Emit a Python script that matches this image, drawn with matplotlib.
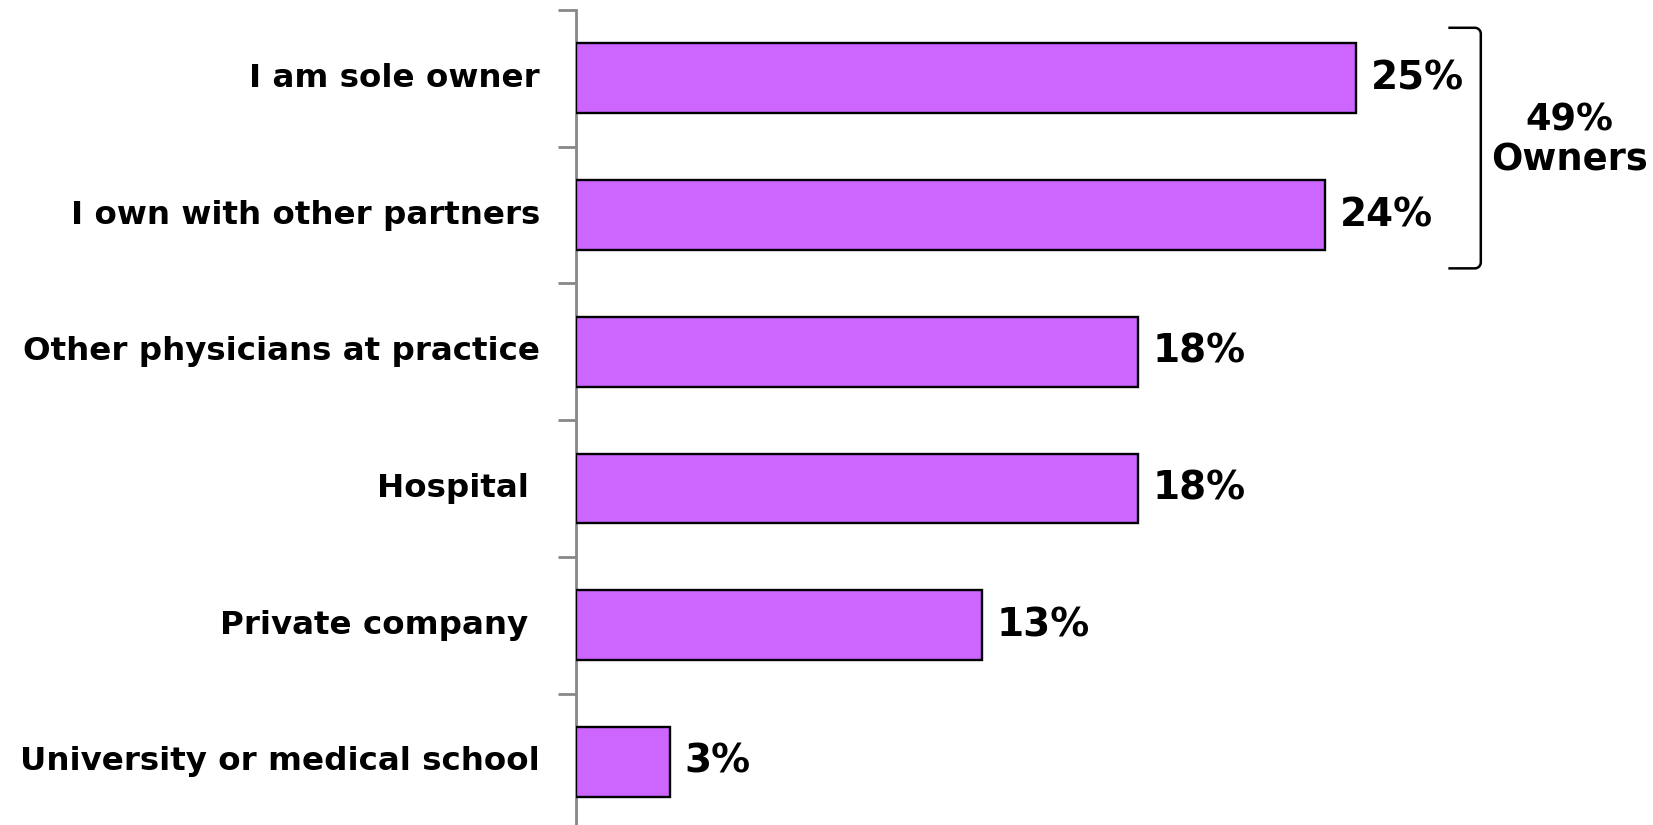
import numpy as np
import matplotlib
matplotlib.use("Agg")
import matplotlib.pyplot as plt

categories = ["I am sole owner", "I own with other partners", "Other physicians at practice",
              "Hospital ", "Private company ", "University or medical school"]
values = [25, 24, 18, 18, 13, 3]
owners_total = 49

W, H = 1653, 825
fig = plt.figure(figsize=(W / 100, H / 100), dpi=100)
# axis line sits at x=576px, top at y=10px; categories 136.7px apart
ax = fig.add_axes([576 / W, (H - 10 - 6 * 136.7) / H, 1 - 576 / W, 6 * 136.7 / H])

y = np.arange(len(categories))
ax.barh(y, values, height=0.51, color="#CC66FF", edgecolor="black", linewidth=1.7, zorder=3)
ax.set_xlim(0, (W - 576) / 31.2)
ax.set_ylim(len(categories) - 0.5, -0.5)

for s in ["top", "right", "bottom"]:
    ax.spines[s].set_visible(False)
ax.spines["left"].set_color("#888888")
ax.spines["left"].set_linewidth(2)
ax.set_xticks([])
ax.set_yticks(np.arange(len(categories) + 1) - 0.5)
ax.set_yticklabels([])
ax.tick_params(axis="y", length=13, width=2, color="#888888", direction="out")

px = 1 / 31.2      # data units per pixel in x
py = 1 / 136.7     # data units per pixel in y
for yi, (cat, v) in enumerate(zip(categories, values)):
    ax.text(-36 * px, yi, cat, ha="right", va="center", fontsize=23.4,
            fontweight="bold", color="black")
    ax.text(v + 15 * px, yi, f"{v}%", ha="left", va="center", fontsize=28,
            fontweight="bold", color="black")

# bracket around the two owner bars, with rounded corners
bx = max(values[:2]) + 4
top, bot = 0 - 0.37, 1 + 0.39
rx, ry = 6 * px, 6 * py
t = np.linspace(np.pi / 2, 0, 10)
xs = np.concatenate([[bx - 1.0], bx - rx + rx * np.cos(t), bx - rx + rx * np.cos(t[::-1]), [bx - 1.0]])
ys = np.concatenate([[top], top + ry - ry * np.sin(t), bot - ry + ry * np.sin(t[::-1]), [bot]])
ax.plot(xs, ys, color="black", lw=1.8, clip_on=False, solid_joinstyle="round")
ax.text(bx + 2.85, (top + bot) / 2 - 0.06, f"{owners_total}%\nOwners", ha="center", va="center",
        fontsize=26.5, fontweight="bold", color="black", linespacing=1.12)

fig.savefig("out.png", dpi=100)
